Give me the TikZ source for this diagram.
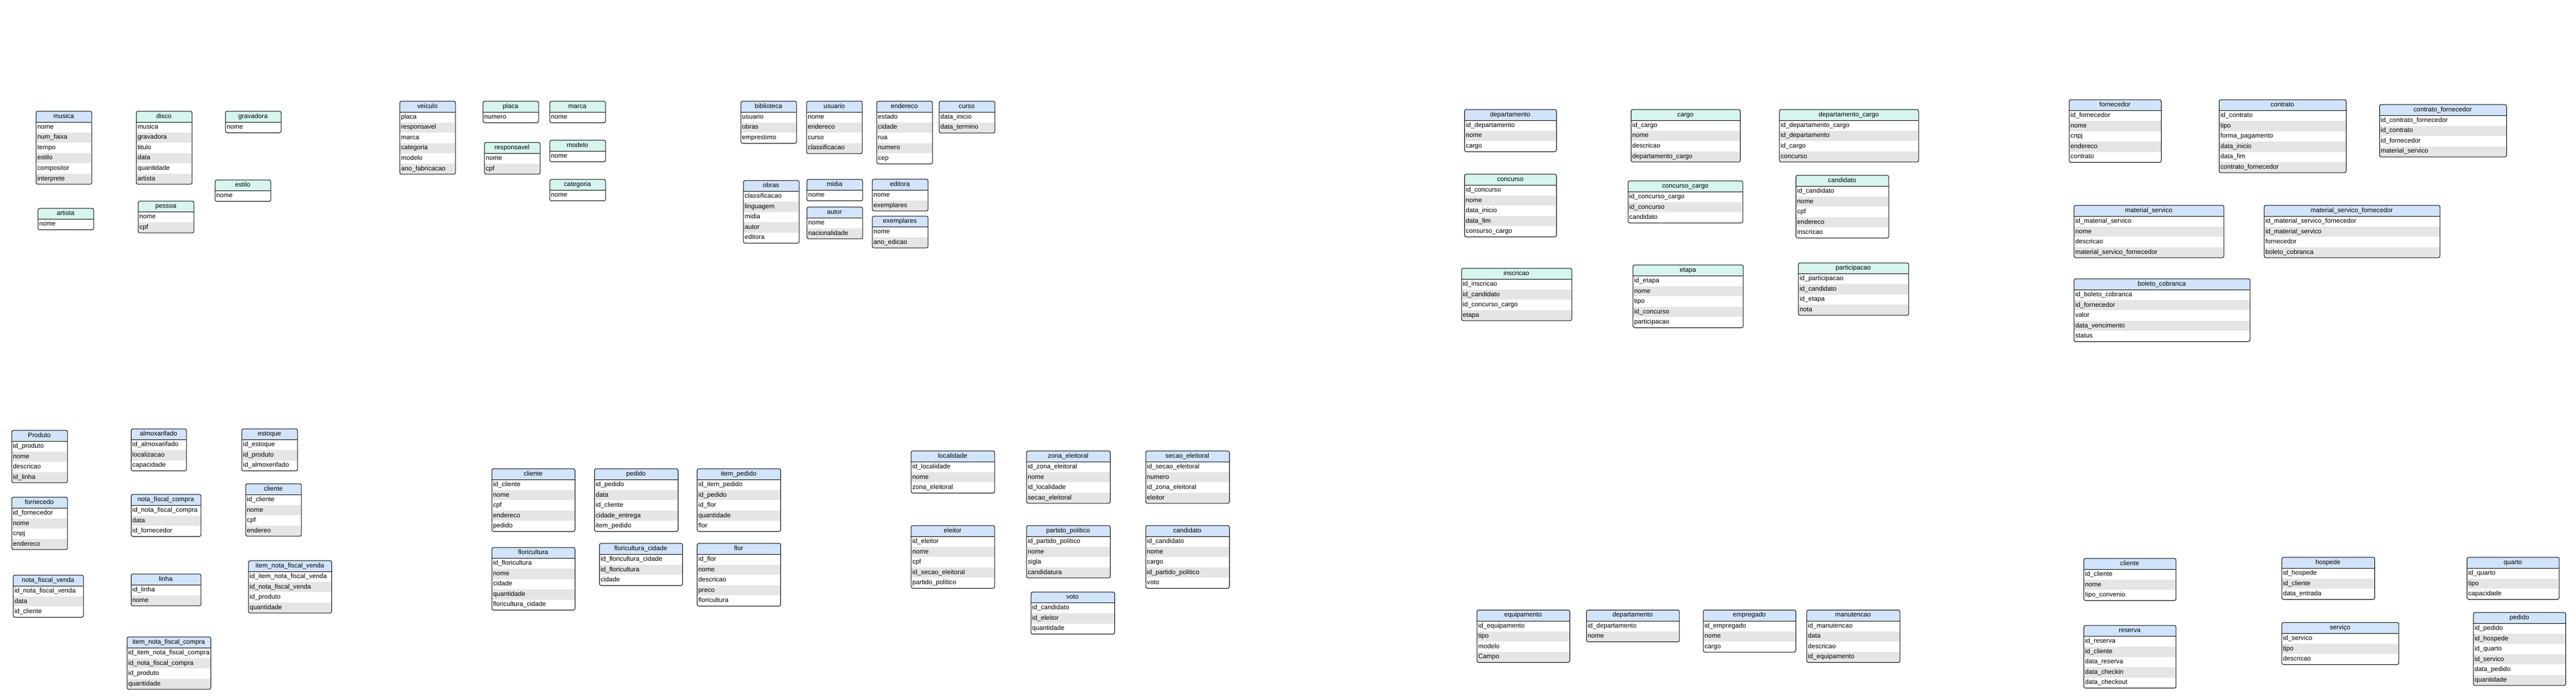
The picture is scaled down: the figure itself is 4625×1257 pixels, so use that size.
\documentclass[tikz,border=0pt]{standalone}
\usepackage{fontspec}
\setmainfont{Liberation Sans}
\definecolor{hdrblue}{RGB}{210,228,252}
\definecolor{hdrmint}{RGB}{213,245,238}
\definecolor{rowgray}{RGB}{229,229,229}
\tikzset{
  tbox/.style={draw=black, line width=1pt, rounded corners=3pt, anchor=north west, inner sep=0pt},
  tline/.style={draw=black, line width=1pt},
  ttitle/.style={anchor=center, inner sep=0pt, text height=8.3pt, text depth=2.4pt},
  trow/.style={anchor=west, inner sep=0pt, xshift=2.5pt, text height=8.3pt, text depth=2.4pt},
}
\newcommand{\erent}[7]{%
  \foreach \rr [count=\ii] in {#7} {\xdef\ernrows{\ii}}%
  \pgfmathsetmacro\erh{20+\ernrows*18.5}%
  \begin{scope}[shift={(#2,#3)}]
    \begin{scope}
      \clip[rounded corners=3pt] (0,0) rectangle (#4,\erh);
      \fill[#5] (0,0) rectangle (#4,20);
      \foreach \rr [count=\ii] in {#7} {
        \pgfmathsetmacro\ery{20+(\ii-1)*18.5}
        \ifodd\ii\else\fill[rowgray] (0,\ery) rectangle (#4,\ery+18.5);\fi
      }
    \end{scope}
    \node[tbox, minimum width=#4pt, minimum height=\erh pt] (#1) at (0,0) {};
    \draw[tline] (0,20) -- (#4,20);
    \node[ttitle] (#1-t) at (#4/2,10) {#6};
    \foreach \rr [count=\ii] in {#7} {
      \node[trow] (#1-\ii) at (0,20+\ii*18.5-9.25) {\rr};
    }
  \end{scope}%
}
\begin{document}
\begin{tikzpicture}[x=1pt,y=-1pt,font=\fontsize{11.7}{14}\selectfont]
\fill[white] (0,0) rectangle (4625,1257);
\useasboundingbox (0,0) rectangle (4625,1257);
% group: musica
\erent{musica}{64.3}{199.3}{100}{hdrblue}{musica}{nome,num\_faixa,tempo,estilo,compositor,interprete}
\erent{disco}{244.3}{199.3}{100}{hdrmint}{disco}{musica,gravadora,titulo,data,quantidade,artista}
\erent{gravadora}{404.3}{199.3}{100}{hdrmint}{gravadora}{nome}
\erent{estiloA}{385.7}{322.7}{100}{hdrmint}{estilo}{nome}
\erent{artista}{67.7}{373.7}{100}{hdrmint}{artista}{nome}
\erent{pessoa}{247.7}{360.7}{100}{hdrmint}{pessoa}{nome,cpf}
% group: veiculo
\erent{veiculo}{717.3}{181.3}{100}{hdrblue}{veiculo}{placa,responsavel,marca,categoria,modelo,ano\_fabricacao}
\erent{placa}{866.7}{181.3}{100}{hdrmint}{placa}{numero}
\erent{marca}{986.7}{181.3}{100}{hdrmint}{marca}{nome}
\erent{responsavel}{869.3}{255.3}{100}{hdrmint}{responsavel}{nome,cpf}
\erent{modelo}{986.7}{251.3}{100}{hdrmint}{modelo}{nome}
\erent{categoria}{986.7}{321.7}{100}{hdrmint}{categoria}{nome}
% group: biblioteca
\erent{biblioteca}{1329.7}{181.3}{100}{hdrblue}{biblioteca}{usuario,obras,emprestimo}
\erent{usuario}{1447.7}{181.3}{100}{hdrblue}{usuario}{nome,endereco,curso,classificacao}
\erent{endereco}{1573.7}{181.3}{100}{hdrblue}{endereco}{estado,cidade,rua,numero,cep}
\erent{curso}{1685.7}{181.3}{100}{hdrblue}{curso}{data\_inicio,data\_termino}
\erent{obras}{1334.3}{323.7}{100}{hdrblue}{obras}{classificacao,linguagem,midia,autor,editora}
\erent{midia}{1448.3}{321.7}{100}{hdrblue}{midia}{nome}
\erent{autor}{1448.3}{371.3}{100}{hdrblue}{autor}{nome,nacionalidade}
\erent{editora}{1565.7}{321.3}{100}{hdrblue}{editora}{nome,exemplares}
\erent{exemplares}{1565.7}{387.7}{100}{hdrblue}{exemplares}{nome,ano\_edicao}
% group: concurso
\erent{depA}{2629}{196.3}{165}{hdrblue}{departamento}{id\_departamento,nome,cargo}
\erent{cargo}{2928}{196.3}{196}{hdrmint}{cargo}{id\_cargo,nome,descricao,departamento\_cargo}
\erent{depcargo}{3194.3}{196.3}{250}{hdrmint}{departamento\_cargo}{id\_departamento\_cargo,id\_departamento,id\_cargo,concurso}
\erent{concurso}{2629}{312.3}{165}{hdrmint}{concurso}{id\_concurso,nome,data\_inicio,data\_fim,consurso\_cargo}
\erent{conccargo}{2922.7}{324.3}{206}{hdrmint}{concurso\_cargo}{id\_concurso\_cargo,id\_concurso,candidato}
\erent{candA}{3224}{314.3}{166.5}{hdrmint}{candidato}{id\_candidato,nome,cpf,endereco,inscricao}
\erent{inscricao}{2623.6}{481.3}{198}{hdrmint}{inscricao}{id\_inscricao,id\_candidato,id\_concurso\_cargo,etapa}
\erent{etapa}{2931.4}{475.3}{198}{hdrmint}{etapa}{id\_etapa,nome,tipo,id\_concurso,participacao}
\erent{participacao}{3228.4}{471.7}{198}{hdrmint}{participacao}{id\_participacao,id\_candidato,id\_etapa,nota}
% group: fornecedor
\erent{fornecedor}{3714.7}{178.7}{165}{hdrblue}{fornecedor}{id\_fornecedor,nome,cnpj,endereco,contrato}
\erent{contrato}{3983.8}{178.7}{228}{hdrblue}{contrato}{id\_contrato,tipo,forma\_pagamento,data\_inicio,data\_fim,contrato\_fornecedor}
\erent{contratofor}{4271.7}{187.3}{228}{hdrblue}{contrato\_fornecedor}{id\_contrato\_fornecedor,id\_contrato,id\_fornecedor,material\_servico}
\erent{matserv}{3723.3}{368.3}{269}{hdrblue}{material\_servico}{id\_material\_servico,nome,descricao,material\_servico\_fornecedor}
\erent{matservfor}{4064.6}{368.3}{315.6}{hdrblue}{material\_servico\_fornecedor}{id\_material\_servico\_fornecedor,id\_material\_servico,fornecedor,boleto\_cobranca}
\erent{boleto}{3723.3}{500.3}{316}{hdrblue}{boleto\_cobranca}{id\_boleto\_cobranca,id\_fornecedor,valor,data\_vencimento,status}
% group: produto
\erent{produto}{20.7}{772.3}{100}{hdrblue}{Produto}{id\_produto,nome,descricao,id\_linha}
\erent{almox}{235}{769.7}{99.3}{hdrblue}{almoxarifado}{id\_almoxarifado,localizacao,capacidade}
\erent{estoque}{433.7}{769.7}{100}{hdrblue}{estoque}{id\_estoque,id\_produto,id\_almoxerifado}
\erent{clienteA}{440.7}{868.3}{100}{hdrblue}{cliente}{id\_cliente,nome,cpf,endereo}
\erent{fornecedo}{20.7}{892.3}{100}{hdrblue}{fornecedo}{id\_fornecedor,nome,cnpj,endereco}
\erent{nfc}{235}{887.3}{125.3}{hdrblue}{nota\_fiscal\_compra}{id\_nota\_fiscal\_compra,data,id\_fornecedor}
\erent{infv}{445.7}{1006.3}{149.3}{hdrblue}{item\_nota\_fiscal\_venda}{id\_item\_nota\_fiscal\_venda,id\_nota\_fiscal\_venda,id\_produto,quantidade}
\erent{nfv}{23.3}{1032.3}{126}{hdrblue}{nota\_fiscal\_venda}{id\_nota\_fiscal\_venda,data,id\_cliente}
\erent{linha}{235}{1030.3}{125.3}{hdrblue}{linha}{id\_linha,nome}
\erent{infc}{227.7}{1143.3}{150.3}{hdrblue}{item\_nota\_fiscal\_compra}{id\_item\_nota\_fiscal\_compra,id\_nota\_fiscal\_compra,id\_produto,quantidade}
% group: floricultura
\erent{clienteB}{882.6}{841.3}{149.2}{hdrblue}{cliente}{id\_cliente,nome,cpf,endereco,pedido}
\erent{pedidoA}{1066.9}{841.3}{150}{hdrblue}{pedido}{id\_pedido,data,id\_cliente,cidade\_entrega,item\_pedido}
\erent{itempedido}{1251.2}{841.3}{150}{hdrblue}{item\_pedido}{id\_item\_pedido,id\_pedido,id\_flor,quantidade,flor}
\erent{floricultura}{882.6}{982.7}{149.2}{hdrblue}{floricultura}{id\_floricultura,nome,cidade,quantidade,floricultura\_cidade}
\erent{florcid}{1075.8}{975.3}{149.2}{hdrblue}{floricultura\_cidade}{id\_floricultura\_cidade,id\_floricultura,cidade}
\erent{flor}{1251.2}{975.3}{150}{hdrblue}{flor}{id\_flor,nome,descricao,preco,floricultura}
% group: eleicao
\erent{localidade}{1635.4}{809.3}{150}{hdrblue}{localidade}{id\_localidade,nome,zona\_eleitoral}
\erent{zona}{1842.6}{809.3}{150.3}{hdrblue}{zona\_eleitoral}{id\_zona\_eleitoral,nome,id\_localidade,secao\_eleitoral}
\erent{secao}{2056.5}{809.3}{150.3}{hdrblue}{secao\_eleitoral}{id\_secao\_eleitoral,numero,id\_zona\_eleitoral,eleitor}
\erent{eleitor}{1635.4}{943.3}{150}{hdrblue}{eleitor}{id\_eleitor,nome,cpf,id\_secao\_eleitoral,partido\_politico}
\erent{partido}{1842.6}{943.3}{150.3}{hdrblue}{partido\_politico}{id\_partido\_politico,nome,sigla,candidatura}
\erent{candB}{2056.5}{943.3}{150.3}{hdrblue}{candidato}{id\_candidato,nome,cargo,id\_partido\_politico,voto}
\erent{voto}{1850.5}{1062.7}{150.3}{hdrblue}{voto}{id\_candidato,id\_eleitor,quantidade}
% group: equipamento
\erent{equipamento}{2651.4}{1095}{166.4}{hdrblue}{equipamento}{id\_equipamento,tipo,modelo,Campo}
\erent{depB}{2847.9}{1095}{166.8}{hdrblue}{departamento}{id\_departamento,nome}
\erent{empregado}{3057.6}{1095}{166.3}{hdrblue}{empregado}{id\_empregado,nome,cargo}
\erent{manutencao}{3243.3}{1095}{167.3}{hdrblue}{manutencao}{id\_manutencao,data,descricao,id\_equipamento}
% group: hotel
\erent{clienteC}{3740.8}{1002.3}{165.6}{hdrblue}{cliente}{id\_cliente,nome,tipo\_convenio}
\erent{hospede}{4096.3}{1000.3}{166.8}{hdrblue}{hospede}{id\_hospede,id\_cliente,data\_entrada}
\erent{quarto}{4428.8}{1000.3}{165.6}{hdrblue}{quarto}{id\_quarto,tipo,capacidade}
\erent{reserva}{3740.8}{1122.7}{165.6}{hdrblue}{reserva}{id\_reserva,id\_cliente,data\_reserva,data\_checkin,data\_checkout}
\erent{servico}{4096.3}{1117.3}{210}{hdrblue}{serviço}{id\_servico,tipo,descricao}
\erent{pedidoB}{4440.3}{1099.3}{165.7}{hdrblue}{pedido}{id\_pedido,id\_hospede,id\_quarto,id\_servico,data\_pedido,quantidade}
\end{tikzpicture}
\end{document}
